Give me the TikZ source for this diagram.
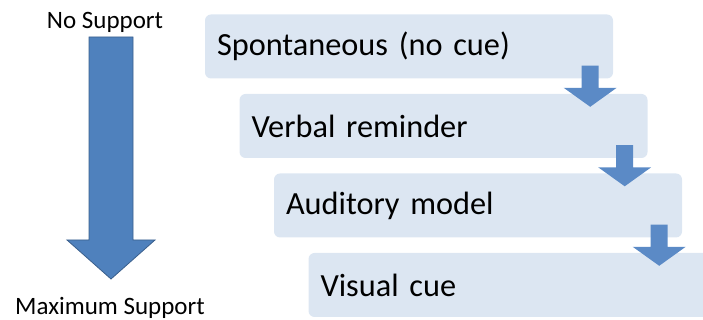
\documentclass[tikz,border=0pt]{standalone}
\usepackage{fontspec}
\setmainfont{Carlito}
\usetikzlibrary{positioning}
\definecolor{cuefill}{HTML}{DCE6F2}
\definecolor{stepblue}{HTML}{5B8AC6}
\definecolor{axisblue}{HTML}{4F81BD}
\definecolor{axisedge}{HTML}{3A5F8C}

\begin{document}
\begin{tikzpicture}[x=1pt,y=1pt]
\tikzstyle{cuebox}=[fill=cuefill,rounded corners=6pt,inner xsep=12pt,text width=384pt,minimum height=64pt,align=left,font=\fontsize{32.3}{38}\selectfont]
\tikzstyle{sidelabel}=[inner sep=0pt,font=\fontsize{25}{30}\selectfont]
\tikzstyle{stepdown}=[fill=stepblue]
\useasboundingbox (0,0) rectangle (703,320);
\clip (0,0) rectangle (703,320);
% support axis
\node[sidelabel] (nosup) at (105,298) {No Support};
\node[sidelabel] (maxsup) at (110,12) {Maximum Support};
\draw[fill=axisblue,draw=axisedge,line width=0.8pt] (89,283) -- (133,283) -- (133,80) -- (155,80)
 -- (111,41) -- (67,80) -- (89,80) -- cycle;
% cue levels
\node[cuebox] (spont) at (409,273.5) {Spontaneous (no cue)};
\node[cuebox] (verbal) at (443.5,194) {Verbal reminder};
\node[cuebox] (audit) at (478,114.5) {Auditory model};
\node[cuebox] (visual) at (512.5,35) {Visual cue};
% step arrows
\foreach \a/\b in {spont/verbal,verbal/audit,audit/visual}{
 \coordinate (top) at ([shift={(-23,13)}]\a.south east);
 \coordinate (tip) at ([yshift=-13]\b.north -| top);
 \fill[stepdown] (tip) -- ++(26.5,19) -- ++(-18,0) |- ([xshift=8.5]top)
  -- ([xshift=-8.5]top) |- ([shift={(-26.5,19)}]tip) -- cycle;
}
\end{tikzpicture}
\end{document}
